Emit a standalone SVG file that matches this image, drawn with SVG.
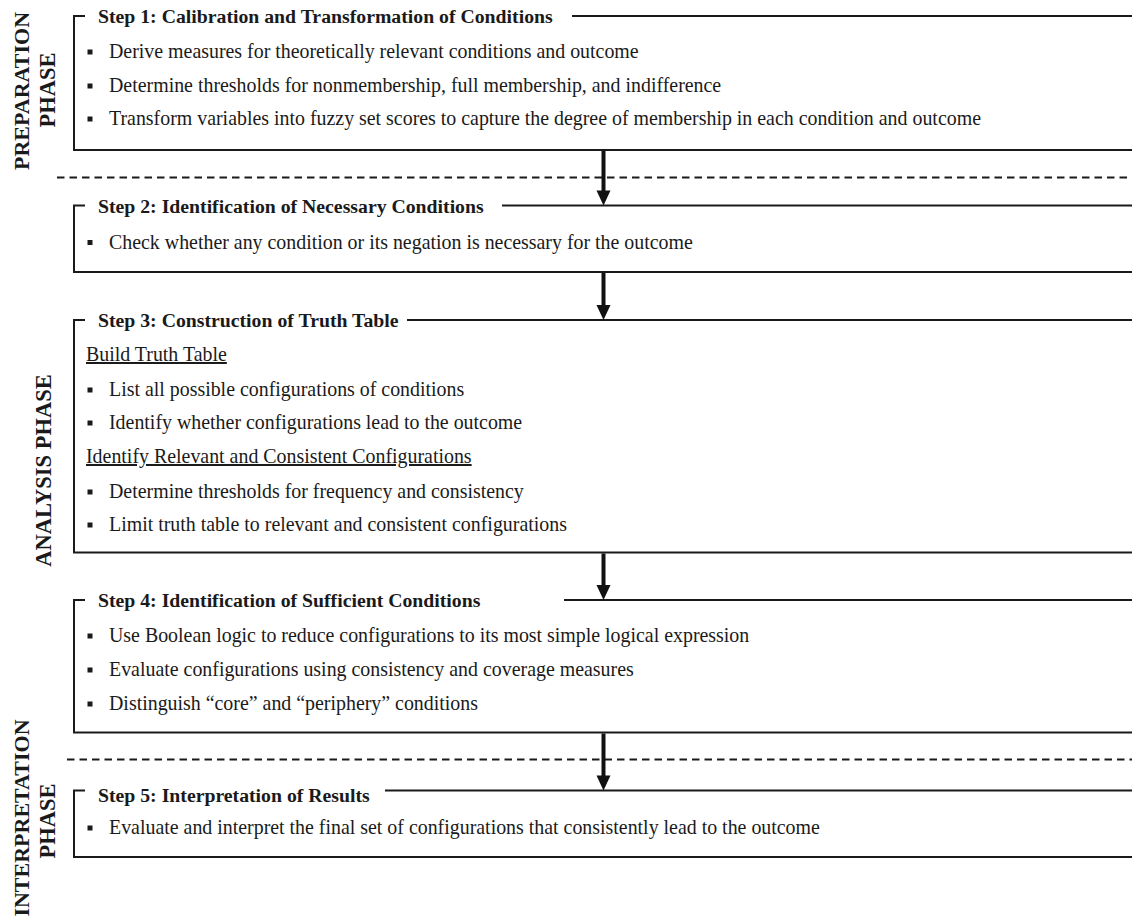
<svg xmlns="http://www.w3.org/2000/svg" width="1132" height="919" viewBox="0 0 1132 919">
<style>
.frame{fill:none;stroke:#1a1a1a;stroke-width:2}
.dash{fill:none;stroke:#1a1a1a;stroke-width:2;stroke-dasharray:7.5 5}
.shaft{stroke:#111;stroke-width:4}
.head{fill:#111}
.title{font-family:"Liberation Serif","Times New Roman",serif;font-weight:bold;font-size:19.75px;fill:#1a1a1a}
.body{font-family:"Liberation Serif","Times New Roman",serif;font-size:19.9px;fill:#1a1a1a}
.phase{font-family:"Liberation Serif","Times New Roman",serif;font-weight:bold;font-size:22.5px;fill:#1a1a1a;text-anchor:middle}
.ul{text-decoration:underline}
.bul{fill:#1a1a1a}
</style>
<rect width="1132" height="919" fill="#ffffff"/>

<g id="phase-labels">
<text class="phase" transform="translate(28.5,91) rotate(-90)" style="font-size:22px">PREPARATION</text>
<text class="phase" transform="translate(55,90) rotate(-90)">PHASE</text>
<text class="phase" transform="translate(50.5,470.5) rotate(-90)">ANALYSIS PHASE</text>
<text class="phase" transform="translate(28.5,818) rotate(-90)" style="font-size:22px">INTERPRETATION</text>
<text class="phase" transform="translate(55,821) rotate(-90)">PHASE</text>
</g>

<g id="separators">
<line class="dash" x1="57" y1="177.5" x2="1132" y2="177.5"/>
<line class="dash" x1="67" y1="759.5" x2="1132" y2="759.5"/>
</g>

<g id="step1">
<path class="frame" d="M85,16 H74 V150 H1132 M572,16 H1132"/>
<text class="title" x="98" y="23">Step 1: Calibration and Transformation of Conditions</text>
<rect class="bul" x="87.5" y="49.5" width="5" height="5"/>
<text class="body" x="109" y="58">Derive measures for theoretically relevant conditions and outcome</text>
<rect class="bul" x="87.5" y="83.5" width="5" height="5"/>
<text class="body" x="109" y="92">Determine thresholds for nonmembership, full membership, and indifference</text>
<rect class="bul" x="87.5" y="116.5" width="5" height="5"/>
<text class="body" x="109" y="125">Transform variables into fuzzy set scores to capture the degree of membership in each condition and outcome</text>
</g>

<g id="step2">
<path class="frame" d="M85,205.5 H74 V272 H1132 M502,205.5 H1132"/>
<text class="title" x="98" y="213">Step 2: Identification of Necessary Conditions</text>
<rect class="bul" x="87.5" y="240" width="5" height="5"/>
<text class="body" x="109" y="249">Check whether any condition or its negation is necessary for the outcome</text>
</g>

<g id="step3">
<path class="frame" d="M85,320 H74 V552.5 H1132 M407,320 H1132"/>
<text class="title" x="98" y="327">Step 3: Construction of Truth Table</text>
<text class="body ul" x="86" y="361">Build Truth Table</text>
<rect class="bul" x="87.5" y="387.5" width="5" height="5"/>
<text class="body" x="109" y="396">List all possible configurations of conditions</text>
<rect class="bul" x="87.5" y="420.5" width="5" height="5"/>
<text class="body" x="109" y="429">Identify whether configurations lead to the outcome</text>
<text class="body ul" x="86" y="463">Identify Relevant and Consistent Configurations</text>
<rect class="bul" x="87.5" y="489.5" width="5" height="5"/>
<text class="body" x="109" y="498">Determine thresholds for frequency and consistency</text>
<rect class="bul" x="87.5" y="522.5" width="5" height="5"/>
<text class="body" x="109" y="531">Limit truth table to relevant and consistent configurations</text>
</g>

<g id="step4">
<path class="frame" d="M85,600 H74 V732.5 H1132 M564,600 H1132"/>
<text class="title" x="98" y="607">Step 4: Identification of Sufficient Conditions</text>
<rect class="bul" x="87.5" y="633.5" width="5" height="5"/>
<text class="body" x="109" y="642">Use Boolean logic to reduce configurations to its most simple logical expression</text>
<rect class="bul" x="87.5" y="667.5" width="5" height="5"/>
<text class="body" x="109" y="676">Evaluate configurations using consistency and coverage measures</text>
<rect class="bul" x="87.5" y="701.5" width="5" height="5"/>
<text class="body" x="109" y="710">Distinguish “core” and “periphery” conditions</text>
</g>

<g id="step5">
<path class="frame" d="M85,790.5 H74 V857 H1132 M385,790.5 H1132"/>
<text class="title" x="98" y="802">Step 5: Interpretation of Results</text>
<rect class="bul" x="87.5" y="825.5" width="5" height="5"/>
<text class="body" x="109" y="834">Evaluate and interpret the final set of configurations that consistently lead to the outcome</text>
</g>

<g id="connectors">
<line class="shaft" x1="603.5" y1="151" x2="603.5" y2="192"/>
<polygon class="head" points="596.5,190.5 610.5,190.5 603.5,205.5"/>
<line class="shaft" x1="603.5" y1="273" x2="603.5" y2="307"/>
<polygon class="head" points="596.5,305 610.5,305 603.5,320"/>
<line class="shaft" x1="603.5" y1="553.5" x2="603.5" y2="587"/>
<polygon class="head" points="596.5,585 610.5,585 603.5,600"/>
<line class="shaft" x1="603.5" y1="733.5" x2="603.5" y2="777"/>
<polygon class="head" points="596.5,775.5 610.5,775.5 603.5,790.5"/>
</g>
</svg>
